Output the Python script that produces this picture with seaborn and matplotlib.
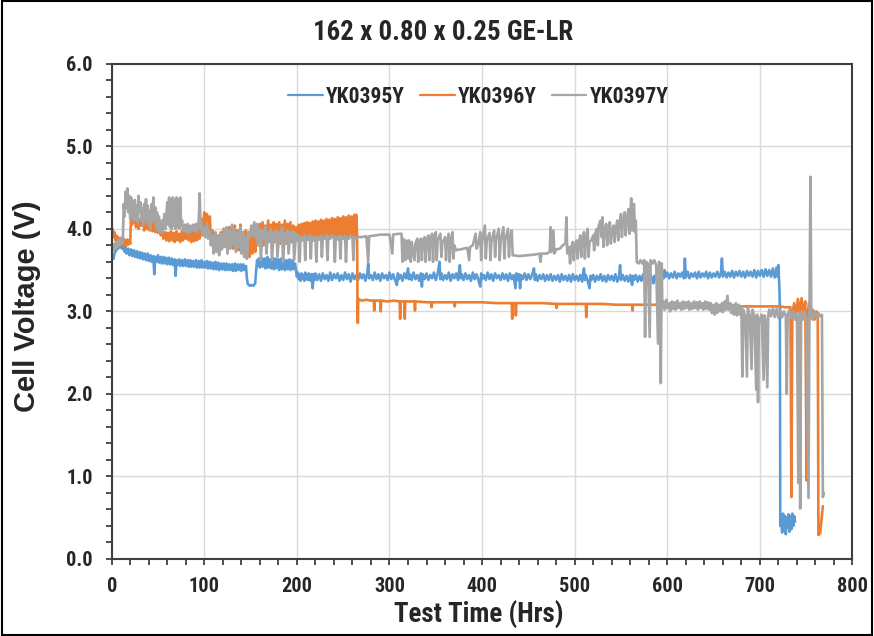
import matplotlib
matplotlib.use("Agg")
import matplotlib.pyplot as plt
from matplotlib.patches import Rectangle
from matplotlib.ticker import MultipleLocator, FormatStrFormatter
from matplotlib import font_manager as fm
import seaborn as sns
import pandas as pd

# ---------------- data ----------------
title = "162 x 0.80 x 0.25 GE-LR"
x_label = "Test Time (Hrs)"
y_label = "Cell Voltage (V)"
series_names = ["YK0395Y", "YK0396Y", "YK0397Y"]
series_colors = ["#5B9BD5", "#ED7D31", "#A5A5A5"]
x_ticks = [0, 100, 200, 300, 400, 500, 600, 700, 800]
y_ticks = [0.0, 1.0, 2.0, 3.0, 4.0, 5.0, 6.0]

YK0395Y_points = [
    (0, 3.62), (1, 3.68), (2, 3.64), (3, 3.70), (5, 3.74), (6, 3.80), (7, 3.76), (8, 3.84), (9, 3.78),
    (10, 3.82), (11, 3.76), (12, 3.80), (14, 3.72), (15, 3.78), (16, 3.70), (18, 3.76), (19, 3.68),
    (21, 3.75), (22, 3.67), (24, 3.74), (25, 3.66), (27, 3.73), (28, 3.65), (30, 3.72), (31, 3.64),
    (33, 3.71), (34, 3.63), (36, 3.70), (37, 3.62), (39, 3.70), (40, 3.61), (42, 3.68), (43, 3.60),
    (45, 3.67), (46, 3.45), (47, 3.66), (48, 3.60), (50, 3.68), (51, 3.59), (53, 3.66), (54, 3.58),
    (56, 3.66), (57, 3.58), (59, 3.65), (60, 3.57), (62, 3.65), (63, 3.57), (65, 3.64), (66, 3.56),
    (68, 3.63), (69, 3.43), (70, 3.62), (71, 3.56), (73, 3.63), (74, 3.55), (76, 3.62), (77, 3.55),
    (79, 3.63), (80, 3.55), (82, 3.62), (83, 3.54), (85, 3.62), (86, 3.54), (88, 3.61), (89, 3.54),
    (91, 3.62), (92, 3.53), (94, 3.61), (95, 3.53), (97, 3.62), (98, 3.53), (100, 3.60), (101, 3.53),
    (103, 3.61), (104, 3.52), (106, 3.60), (107, 3.52), (109, 3.59), (110, 3.51), (112, 3.60), (113, 3.51),
    (115, 3.59), (116, 3.50), (118, 3.58), (119, 3.51), (121, 3.58), (122, 3.50), (124, 3.58), (125, 3.50),
    (127, 3.57), (128, 3.50), (130, 3.57), (131, 3.49), (133, 3.58), (134, 3.49), (136, 3.57), (137, 3.50),
    (139, 3.57), (140, 3.49), (142, 3.57), (143, 3.50), (145, 3.55), (146, 3.40), (147, 3.33), (149, 3.31),
    (151, 3.32), (153, 3.31), (155, 3.34), (156, 3.50), (157, 3.62), (158, 3.55), (159, 3.64), (160, 3.53),
    (162, 3.65), (163, 3.54), (165, 3.64), (166, 3.52), (168, 3.66), (169, 3.53), (171, 3.63), (172, 3.52),
    (174, 3.65), (175, 3.51), (177, 3.64), (178, 3.52), (180, 3.63), (181, 3.50), (183, 3.64), (184, 3.51),
    (186, 3.63), (187, 3.50), (189, 3.62), (190, 3.51), (192, 3.63), (193, 3.50), (195, 3.62), (196, 3.51),
    (198, 3.58), (200, 3.42), (201, 3.47), (202, 3.39), (203, 3.45), (204, 3.37), (205, 3.46), (206, 3.40),
    (207, 3.44), (208, 3.37), (209, 3.47), (210, 3.39), (211, 3.45), (212, 3.38), (213, 3.46), (214, 3.40),
    (215, 3.37), (216, 3.45), (217, 3.28), (218, 3.45), (219, 3.38), (220, 3.46), (222, 3.38), (224, 3.45),
    (226, 3.37), (228, 3.46), (230, 3.39), (232, 3.44), (234, 3.37), (236, 3.47), (238, 3.38), (240, 3.45),
    (242, 3.40), (244, 3.46), (246, 3.37), (248, 3.44), (250, 3.38), (252, 3.47), (254, 3.39), (256, 3.45),
    (258, 3.36), (260, 3.46), (262, 3.39), (264, 3.44), (266, 3.38), (268, 3.46), (270, 3.40), (272, 3.45),
    (274, 3.37), (276, 3.46), (277, 3.58), (278, 3.40), (280, 3.44), (282, 3.38), (284, 3.47), (286, 3.39),
    (288, 3.45), (290, 3.37), (292, 3.46), (294, 3.40), (296, 3.44), (298, 3.38), (300, 3.47), (302, 3.39),
    (304, 3.45), (306, 3.38), (308, 3.32), (309, 3.46), (310, 3.39), (312, 3.44), (314, 3.37), (316, 3.46),
    (318, 3.40), (320, 3.52), (321, 3.39), (322, 3.45), (324, 3.38), (326, 3.47), (328, 3.39), (330, 3.44),
    (332, 3.37), (334, 3.46), (335, 3.30), (336, 3.45), (338, 3.39), (340, 3.46), (342, 3.38), (344, 3.44),
    (346, 3.40), (348, 3.47), (350, 3.38), (352, 3.45), (354, 3.60), (355, 3.39), (356, 3.46), (358, 3.38),
    (360, 3.44), (362, 3.39), (364, 3.47), (366, 3.37), (368, 3.45), (370, 3.40), (372, 3.46), (374, 3.38),
    (376, 3.56), (377, 3.40), (378, 3.45), (380, 3.38), (382, 3.46), (384, 3.39), (386, 3.44), (388, 3.37),
    (390, 3.47), (392, 3.39), (394, 3.45), (396, 3.38), (398, 3.30), (399, 3.46), (400, 3.39), (402, 3.44),
    (404, 3.38), (406, 3.47), (408, 3.39), (410, 3.45), (412, 3.37), (414, 3.46), (416, 3.40), (418, 3.44),
    (420, 3.38), (422, 3.46), (424, 3.39), (426, 3.45), (428, 3.37), (430, 3.46), (432, 3.39), (434, 3.44),
    (436, 3.28), (437, 3.46), (438, 3.38), (440, 3.45), (441, 3.28), (442, 3.44), (444, 3.39), (446, 3.46),
    (448, 3.38), (450, 3.45), (452, 3.39), (454, 3.44), (456, 3.52), (457, 3.38), (458, 3.45), (460, 3.37),
    (462, 3.44), (464, 3.39), (466, 3.45), (468, 3.37), (470, 3.44), (472, 3.38), (474, 3.45), (476, 3.37),
    (478, 3.43), (480, 3.38), (482, 3.44), (484, 3.36), (486, 3.45), (488, 3.38), (490, 3.43), (492, 3.37),
    (494, 3.44), (496, 3.36), (498, 3.45), (500, 3.38), (502, 3.43), (504, 3.37), (506, 3.44), (508, 3.36),
    (510, 3.52), (511, 3.38), (512, 3.44), (514, 3.37), (516, 3.28), (517, 3.43), (518, 3.38), (520, 3.44),
    (522, 3.36), (524, 3.43), (526, 3.38), (528, 3.45), (530, 3.37), (532, 3.43), (534, 3.36), (536, 3.44),
    (538, 3.38), (540, 3.43), (542, 3.37), (544, 3.45), (546, 3.36), (548, 3.43), (549, 3.56), (550, 3.38),
    (552, 3.44), (554, 3.37), (556, 3.43), (558, 3.36), (560, 3.44), (562, 3.32), (563, 3.43), (564, 3.38),
    (566, 3.44), (568, 3.36), (570, 3.43), (572, 3.37), (574, 3.45), (576, 3.38), (578, 3.43), (580, 3.36),
    (582, 3.44), (584, 3.37), (585, 3.34), (586, 3.43), (588, 3.38), (590, 3.45), (592, 3.39), (594, 3.47),
    (596, 3.40), (597, 3.50), (598, 3.42), (600, 3.47), (602, 3.40), (604, 3.46), (606, 3.41), (608, 3.48),
    (610, 3.40), (612, 3.46), (614, 3.42), (616, 3.47), (618, 3.40), (619, 3.64), (620, 3.41), (622, 3.48),
    (624, 3.40), (626, 3.46), (628, 3.42), (630, 3.47), (632, 3.40), (634, 3.48), (636, 3.41), (638, 3.46),
    (640, 3.42), (642, 3.48), (644, 3.40), (646, 3.47), (648, 3.41), (650, 3.46), (652, 3.42), (654, 3.48),
    (656, 3.41), (658, 3.47), (659, 3.64), (660, 3.42), (662, 3.48), (664, 3.41), (666, 3.47), (668, 3.42),
    (670, 3.49), (672, 3.41), (674, 3.48), (676, 3.43), (678, 3.49), (680, 3.42), (682, 3.48), (684, 3.41),
    (686, 3.49), (688, 3.43), (690, 3.48), (692, 3.42), (694, 3.50), (696, 3.41), (698, 3.49), (700, 3.43),
    (702, 3.50), (704, 3.42), (706, 3.51), (708, 3.43), (710, 3.50), (712, 3.42), (714, 3.52), (716, 3.41),
    (718, 3.53), (719, 3.42), (720, 3.56), (721, 3.30), (721.6, 3.05), (722, 0.40),
    (723, 0.50), (724, 0.32), (725, 0.55), (726, 0.35), (727, 0.52), (728, 0.30), (729, 0.50), (730, 0.38),
    (731, 0.54), (732, 0.33), (733, 0.52), (734, 0.36), (735, 0.55), (736, 0.40), (737, 0.52), (738, 0.45),
]

YK0396Y_points = [
    (0, 3.95), (1, 4.00), (2, 3.90), (3, 3.96), (4, 3.86), (5, 3.92), (6, 3.84), (7, 3.90), (8, 3.82),
    (9, 3.88), (10, 3.80), (11, 3.87), (12, 3.81), (13, 3.88), (14, 3.80), (15, 3.86), (16, 3.80),
    (17, 3.87), (18, 3.81), (19, 3.86), (20, 3.82), (21, 4.20), (22, 4.05), (23, 4.24), (24, 4.08),
    (25, 4.18), (26, 4.02), (28, 4.16), (29, 4.00), (31, 4.12), (32, 4.04), (34, 4.15), (35, 3.98),
    (37, 4.10), (38, 4.00), (40, 4.14), (41, 3.98), (43, 4.08), (44, 3.97), (46, 4.10), (47, 3.96),
    (49, 4.06), (50, 3.95), (52, 4.04), (53, 3.92), (55, 3.98), (56, 3.88), (58, 3.96), (59, 3.86),
    (61, 3.95), (62, 3.85), (64, 3.97), (65, 3.86), (67, 3.95), (68, 3.84), (70, 3.97), (71, 3.86),
    (73, 3.94), (74, 3.84), (76, 3.98), (77, 3.86), (79, 4.05), (80, 3.88), (82, 4.02), (83, 3.86),
    (85, 3.96), (86, 3.84), (88, 3.98), (89, 3.85), (91, 4.00), (92, 3.86), (94, 4.02), (95, 3.88),
    (97, 4.12), (98, 3.92), (100, 4.20), (101, 3.96), (103, 4.18), (104, 3.95), (106, 4.15), (107, 3.90),
    (109, 3.98), (110, 3.78), (112, 3.94), (113, 3.74), (115, 3.92), (116, 3.76), (118, 3.96), (119, 3.78),
    (121, 4.00), (122, 3.80), (124, 3.95), (125, 3.76), (127, 4.02), (128, 3.78), (130, 3.97), (131, 3.76),
    (133, 4.04), (134, 3.80), (136, 3.98), (137, 3.74), (139, 4.05), (140, 3.78), (142, 3.96), (143, 3.70),
    (145, 3.98), (146, 3.64), (148, 3.90), (149, 3.66), (151, 3.94), (152, 3.70), (154, 3.92), (155, 3.72),
    (157, 3.98), (158, 3.80), (160, 4.06), (161, 3.84), (163, 4.08), (164, 3.80), (166, 4.04), (167, 3.82),
    (169, 4.10), (170, 3.84), (172, 4.05), (173, 3.82), (175, 4.08), (176, 3.84), (178, 4.06), (179, 3.80),
    (181, 4.08), (182, 3.82), (184, 4.05), (185, 3.84), (187, 4.10), (188, 3.82), (190, 4.06), (191, 3.85),
    (193, 4.08), (194, 3.84), (196, 4.04), (197, 3.86), (199, 4.02), (200, 3.88), (202, 4.05), (203, 3.87),
    (205, 4.06), (206, 3.88), (208, 4.07), (209, 3.87), (211, 4.08), (212, 3.89), (214, 4.07), (215, 3.88),
    (217, 4.09), (218, 3.89), (220, 4.10), (221, 3.88), (223, 4.09), (224, 3.90), (226, 4.11), (227, 3.89),
    (229, 4.10), (230, 3.90), (232, 4.12), (233, 3.89), (235, 4.11), (236, 3.90), (238, 4.13), (239, 3.90),
    (241, 4.12), (242, 3.91), (244, 4.14), (245, 3.90), (247, 4.13), (248, 3.91), (250, 4.15), (251, 3.90),
    (253, 4.14), (254, 3.91), (256, 4.16), (257, 3.91), (259, 4.15), (260, 3.92), (262, 4.17), (263, 3.91),
    (264, 4.17), (265, 3.92), (265.4, 3.14), (265.8, 2.86), (266.2, 3.15), (270, 3.13), (275, 3.14),
    (280, 3.13), (283, 3.13), (283.5, 3.01), (284, 3.13), (290, 3.13), (290.5, 3.00), (291, 3.13),
    (298, 3.12), (305, 3.13), (311, 3.12), (311.5, 2.91), (312, 3.12), (316, 3.12), (316.5, 2.91),
    (317, 3.12), (322, 3.12), (327, 3.12), (327.5, 3.01), (328, 3.12), (340, 3.11), (345, 3.11),
    (345.5, 3.05), (346, 3.11), (360, 3.11), (370, 3.11), (370.5, 3.06), (371, 3.11), (385, 3.11),
    (400, 3.11), (415, 3.10), (425, 3.10), (432, 3.10), (432.5, 2.91), (433, 3.10), (436, 3.10),
    (436.5, 2.95), (437, 3.10), (450, 3.10), (465, 3.10), (480, 3.09), (480.5, 3.04), (481, 3.09),
    (495, 3.09), (505, 3.09), (512, 3.09), (512.5, 2.93), (513, 3.09), (530, 3.09), (545, 3.08),
    (562, 3.08), (562.5, 3.01), (563, 3.08), (580, 3.08), (600, 3.08), (620, 3.07), (640, 3.07),
    (660, 3.07), (680, 3.06), (700, 3.06), (720, 3.06), (727, 3.05), (733, 3.05), (734, 0.75),
    (735, 2.96), (737, 3.10), (739, 2.94), (741, 3.15), (743, 2.98), (745, 3.16), (747, 2.96),
    (749, 3.12), (750.5, 0.95), (751.5, 2.96), (753, 3.10), (755, 2.92), (757, 3.02), (759, 2.90),
    (761, 3.00), (762.5, 2.92), (763.2, 0.29), (765, 0.31), (768, 0.64),
]

YK0397Y_points = [
    (0, 3.72), (1, 3.80), (2, 3.74), (3, 3.82), (4, 3.76), (5, 3.84), (6, 3.78), (7, 3.86), (8, 3.80),
    (9, 3.88), (10, 3.82), (11, 3.90), (12, 3.84), (13, 4.30), (14, 4.15), (15, 4.45), (16, 4.25),
    (17, 4.49), (18, 4.20), (19, 4.40), (20, 4.12), (21, 4.38), (22, 4.15), (23, 4.30), (24, 4.10),
    (25, 4.35), (26, 4.12), (27, 4.28), (28, 4.08), (29, 4.40), (30, 4.20), (31, 4.32), (32, 4.10),
    (33, 4.25), (34, 4.05), (35, 4.30), (36, 4.08), (37, 4.36), (38, 4.12), (39, 4.28), (40, 4.05),
    (41, 4.22), (42, 4.00), (43, 4.30), (44, 4.08), (45, 4.38), (46, 4.10), (47, 4.26), (48, 4.02),
    (49, 4.20), (50, 3.98), (51, 4.15), (52, 3.95), (54, 4.10), (55, 3.96), (57, 4.18), (58, 4.00),
    (60, 4.32), (61, 4.05), (62, 4.38), (63, 4.02), (64, 4.36), (65, 4.00), (66, 4.38), (67, 4.04),
    (68, 4.35), (69, 4.00), (70, 4.38), (71, 4.02), (72, 4.36), (73, 4.00), (74, 4.38), (75, 4.04),
    (76, 4.10), (77, 3.98), (79, 4.04), (80, 3.96), (82, 4.06), (83, 3.95), (85, 4.04), (86, 3.96),
    (88, 4.05), (89, 3.98), (91, 4.06), (92, 3.96), (94, 4.10), (95, 4.43), (96, 4.00), (97, 4.08),
    (98, 3.92), (100, 4.02), (101, 3.90), (103, 4.06), (104, 3.88), (106, 3.98), (107, 3.80), (109, 3.92),
    (110, 3.70), (112, 3.96), (113, 3.72), (115, 3.90), (116, 3.68), (118, 3.94), (119, 3.75), (121, 4.00),
    (122, 3.78), (124, 4.02), (125, 3.70), (127, 3.98), (128, 3.76), (130, 4.05), (131, 3.80), (133, 4.00),
    (134, 3.72), (136, 3.96), (137, 3.78), (139, 4.02), (140, 3.70), (142, 3.96), (143, 3.66), (145, 3.90),
    (146, 3.64), (148, 3.96), (149, 3.90), (151, 4.04), (152, 3.92), (154, 4.08), (155, 3.90), (157, 4.06),
    (158, 3.80), (160, 4.00), (161, 3.62), (163, 3.98), (164, 3.88), (166, 4.02), (167, 3.70), (169, 3.96),
    (170, 3.85), (172, 4.00), (173, 3.62), (175, 3.96), (176, 3.86), (178, 3.98), (179, 3.66), (181, 3.96),
    (182, 3.84), (184, 4.02), (185, 3.60), (187, 3.95), (188, 3.84), (190, 3.98), (191, 3.70), (193, 3.96),
    (194, 3.88), (196, 3.97), (197, 3.62), (199, 3.94), (200, 3.86), (202, 3.92), (203, 3.60), (204, 3.90),
    (206, 3.86), (208, 3.92), (209, 3.62), (210, 3.90), (212, 3.87), (214, 3.92), (215, 3.64), (216, 3.90),
    (218, 3.86), (220, 3.91), (221, 3.60), (222, 3.90), (224, 3.87), (226, 3.92), (227, 3.66), (228, 3.90),
    (230, 3.88), (232, 3.93), (233, 3.62), (234, 3.90), (236, 3.88), (238, 3.92), (240, 3.89), (241, 3.60),
    (242, 3.90), (244, 3.87), (246, 3.92), (247, 3.64), (248, 3.91), (250, 3.88), (252, 3.92), (253, 3.60),
    (254, 3.90), (256, 3.88), (258, 3.92), (260, 3.89), (261, 3.62), (262, 3.90), (264, 3.88), (266, 3.90),
    (270, 3.90), (275, 3.91), (277, 3.60), (278, 3.91), (285, 3.92), (290, 3.93), (295, 3.93), (300, 3.93),
    (303, 3.70), (304, 3.93), (310, 3.94), (313, 3.94), (314, 3.60), (315, 3.88), (317, 3.62), (318, 3.86),
    (320, 3.64), (321, 3.86), (323, 3.60), (324, 3.84), (327, 3.62), (328, 3.82), (330, 3.88), (331, 3.60),
    (332, 3.84), (334, 3.88), (335, 3.62), (336, 3.85), (338, 3.90), (339, 3.60), (340, 3.86), (342, 3.92),
    (343, 3.62), (344, 3.86), (346, 3.94), (347, 3.60), (348, 3.88), (350, 3.96), (351, 3.62), (352, 3.86),
    (355, 3.94), (356, 3.66), (357, 3.82), (360, 3.90), (361, 3.62), (362, 3.82), (364, 3.94), (365, 3.60),
    (366, 3.82), (368, 3.96), (369, 3.64), (370, 3.80), (372, 3.74), (376, 3.75), (380, 3.76), (384, 3.77),
    (386, 3.62), (387, 3.78), (390, 3.80), (393, 3.94), (394, 3.76), (396, 3.82), (398, 3.96), (399, 3.62),
    (400, 3.84), (403, 4.04), (404, 3.64), (405, 3.86), (408, 3.95), (409, 3.62), (410, 3.84), (413, 3.98),
    (414, 3.66), (415, 3.86), (418, 4.00), (419, 3.62), (420, 3.84), (423, 4.02), (424, 3.64), (425, 3.86),
    (428, 4.00), (429, 3.66), (430, 3.86), (432, 3.98), (433, 3.68), (440, 3.67), (450, 3.68), (458, 3.69),
    (462, 3.70), (463, 3.60), (464, 3.70), (470, 3.70), (473, 3.72), (474, 4.02), (475, 3.72), (477, 3.98),
    (478, 3.70), (480, 3.75), (484, 3.76), (487, 3.80), (490, 3.82), (491, 4.14), (492, 3.70), (494, 3.78),
    (495, 3.58), (496, 3.76), (498, 3.84), (499, 3.62), (500, 3.78), (502, 3.86), (503, 3.64), (504, 3.80),
    (506, 3.92), (507, 3.66), (508, 3.82), (510, 3.96), (511, 3.64), (512, 3.84), (514, 4.00), (515, 3.66),
    (516, 3.84), (518, 3.86), (520, 3.92), (521, 3.74), (522, 3.94), (524, 4.00), (525, 3.80), (526, 4.04),
    (528, 4.10), (529, 3.90), (530, 4.14), (531, 3.78), (532, 3.96), (534, 4.06), (535, 3.80), (536, 3.98),
    (538, 4.08), (539, 3.82), (540, 3.96), (542, 4.04), (543, 3.84), (544, 3.98), (546, 4.10), (547, 3.86),
    (548, 4.04), (550, 4.18), (551, 3.90), (552, 4.06), (554, 4.20), (555, 3.92), (556, 4.08), (558, 4.24),
    (559, 3.94), (560, 4.12), (561, 4.37), (562, 3.98), (563, 4.16), (564, 4.30), (565, 3.96), (566, 4.10),
    (567, 3.60), (569, 3.58), (571, 3.62), (573, 3.58), (575, 3.62), (576, 2.69), (577, 3.60), (579, 3.58),
    (581, 2.69), (582, 3.62), (584, 3.58), (586, 3.62), (588, 3.56), (590, 2.61), (591, 3.60), (592, 3.58),
    (593, 2.13), (594, 3.58), (594.6, 3.06), (596, 3.12), (597, 3.02), (599, 3.14), (600, 3.04), (602, 3.10),
    (603, 3.00), (605, 3.12), (606, 3.03), (608, 3.11), (609, 3.02), (611, 3.13), (612, 3.04), (614, 3.10),
    (615, 3.02), (617, 3.12), (618, 3.03), (620, 3.11), (621, 3.04), (623, 3.12), (624, 3.02), (626, 3.10),
    (627, 3.03), (629, 3.12), (630, 3.04), (632, 3.11), (633, 3.02), (635, 3.12), (636, 3.04), (638, 3.10),
    (639, 3.02), (641, 3.12), (642, 3.03), (644, 3.11), (645, 3.02), (647, 3.10), (648, 2.98), (650, 3.08),
    (651, 2.96), (653, 3.10), (654, 2.98), (656, 3.08), (657, 3.00), (659, 3.10), (660, 2.99), (662, 3.12),
    (663, 3.02), (665, 3.19), (666, 3.02), (668, 3.10), (669, 2.98), (671, 3.08), (672, 2.96), (674, 3.10),
    (675, 2.95), (677, 3.08), (678, 2.96), (680, 3.06), (681, 2.21), (682, 3.02), (684, 2.95), (686, 2.21),
    (687, 3.04), (689, 2.95), (691, 2.30), (692, 3.02), (694, 2.94), (696, 2.05), (697, 2.96), (698, 1.90),
    (699, 2.92), (700, 2.88), (702, 2.96), (704, 2.17), (705, 2.95), (706, 2.90), (708, 2.08), (709, 2.95),
    (710, 3.02), (712, 2.94), (714, 3.04), (716, 2.93), (718, 3.03), (720, 2.92), (722, 3.02), (724, 2.93),
    (726, 3.00), (728, 2.94), (729, 2.00), (730, 2.96), (732, 3.02), (734, 2.92), (736, 3.00), (738, 2.90),
    (740, 2.98), (741.5, 0.92), (742.5, 2.95), (743.5, 0.61), (744.5, 2.98), (746, 2.90), (748, 3.00),
    (750, 2.92), (752.5, 0.74), (753.5, 2.95), (754.6, 4.63), (755.5, 2.96), (757, 2.90), (759, 3.00),
    (761, 2.92), (763, 2.98), (765, 2.94), (767, 2.96), (768, 0.75), (769, 0.80),
]

# ---------------- build long-form table ----------------
frames = []
for name, pts in zip(series_names, [YK0395Y_points, YK0396Y_points, YK0397Y_points]):
    t, v = zip(*pts)
    frames.append(pd.DataFrame({"t": t, "v": v, "series": name}))
df = pd.concat(frames, ignore_index=True)

# ---------------- style / fonts ----------------
sns.set_style("white")
plt.rcParams["font.family"] = ["Liberation Sans", "DejaVu Sans"]
plt.rcParams["font.weight"] = "bold"

ttf = fm.fontManager.ttflist
names = {f.name for f in ttf}
narrow_scale = 1.0
if "Liberation Sans Narrow" in names:
    narrow = dict(family="Liberation Sans Narrow")
elif "Arial Narrow" in names:
    narrow = dict(family="Arial Narrow")
elif "Roboto Condensed" in names:
    narrow = dict(family="Roboto Condensed")
    narrow_scale = 0.97
elif any(f.name == "DejaVu Sans" and f.stretch == "condensed" for f in ttf):
    narrow = dict(family="DejaVu Sans", stretch="condensed")
    narrow_scale = 0.88
else:
    narrow = dict(family="Liberation Sans")
    narrow_scale = 0.84


def nfont(size):
    return fm.FontProperties(weight="bold", size=size * narrow_scale, **narrow)


fig = plt.figure(figsize=(8.74, 6.36), dpi=100)
ax = fig.add_axes([0.1278, 0.1211, 0.8476, 0.7787])

sns.lineplot(data=df, x="t", y="v", hue="series",
             hue_order=series_names, palette=series_colors, estimator=None,
             sort=False, linewidth=1.9, ax=ax)

ax.set_xlim(x_ticks[0], x_ticks[-1])
ax.set_ylim(y_ticks[0], y_ticks[-1])
ax.set_xticks(x_ticks)
ax.set_yticks(y_ticks)
ax.xaxis.set_minor_locator(MultipleLocator(20))
ax.yaxis.set_minor_locator(MultipleLocator(0.2))
ax.yaxis.set_major_formatter(FormatStrFormatter("%.1f"))
ax.grid(True, which="major", color="#D9D9D9", linewidth=1.0)
ax.set_axisbelow(True)

for s in ax.spines.values():
    s.set_color("#404040")
    s.set_linewidth(1.5)
ax.tick_params(which="both", direction="out", length=4.5, width=1.3, color="#404040",
               bottom=True, left=True)
ax.tick_params(axis="x", which="major", pad=8.5)
ax.tick_params(axis="y", which="major", pad=9)
for lab in ax.get_xticklabels() + ax.get_yticklabels():
    lab.set_fontproperties(nfont(15))

ax.set_xlabel(x_label, fontproperties=nfont(20))
ax.xaxis.set_label_coords(0.496, -0.112)
ax.xaxis.label.set_va("center")
ax.set_ylabel(y_label, fontsize=21, fontweight="bold", family="Liberation Sans")
ax.yaxis.set_label_coords(-0.114, 0.51)
ax.yaxis.label.set_va("center")

fig.text(443 / 874, 1 - 32 / 636, title, ha="center", va="center", fontproperties=nfont(20))

leg = ax.legend(loc="center", bbox_to_anchor=(0.495, 0.933), ncol=3, frameon=False,
                handlelength=1.6, handletextpad=0.15, columnspacing=0.7,
                prop=nfont(16))
for line in leg.get_lines():
    line.set_linewidth(1.6)

fig.patches.append(Rectangle((0.002, 0.002), 0.996, 0.996, transform=fig.transFigure,
                             fill=False, edgecolor="black", linewidth=1.5))

fig.savefig("out.png", dpi=100)
